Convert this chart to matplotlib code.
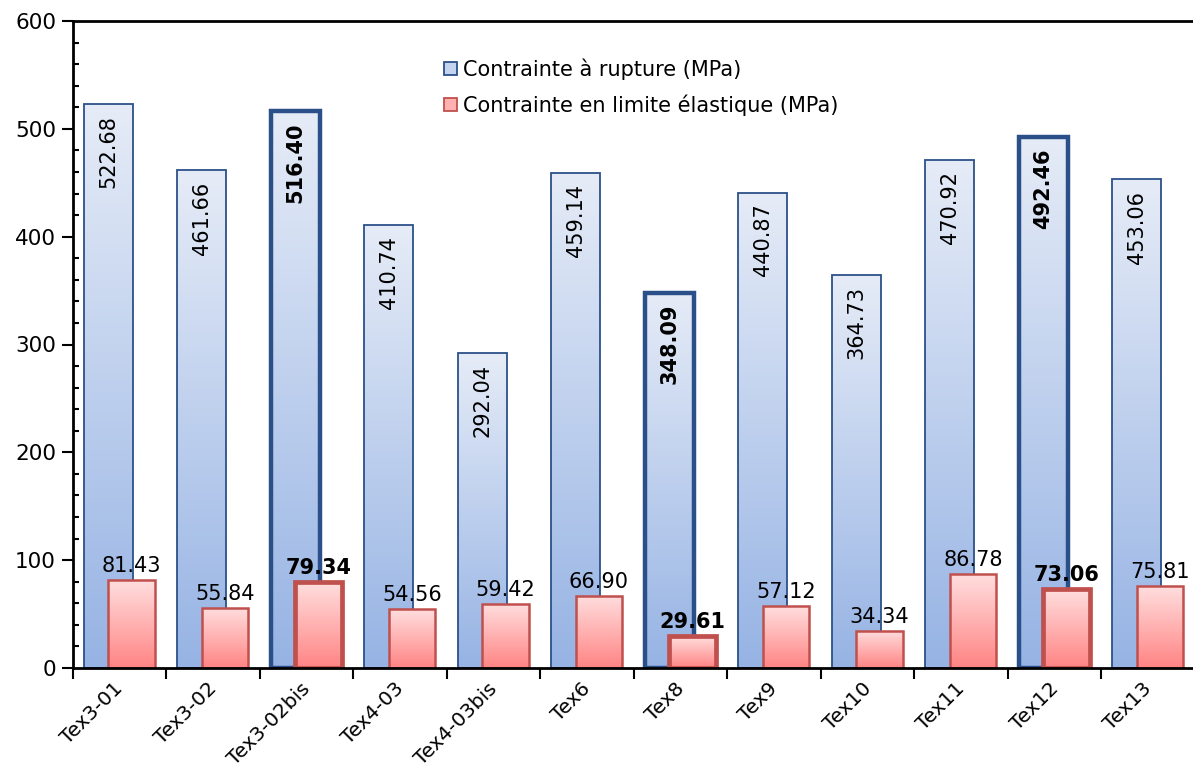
import matplotlib
matplotlib.use("Agg")
import matplotlib.pyplot as plt
import numpy as np
from matplotlib.colors import LinearSegmentedColormap
from matplotlib.patches import Patch
from matplotlib.ticker import MultipleLocator
from matplotlib.transforms import ScaledTranslation

plt.rcParams['font.family'] = ['DejaVu Sans']

categories = ["Tex3-01", "Tex3-02", "Tex3-02bis", "Tex4-03", "Tex4-03bis", "Tex6",
              "Tex8", "Tex9", "Tex10", "Tex11", "Tex12", "Tex13"]
rupture = [522.68, 461.66, 516.40, 410.74, 292.04, 459.14,
           348.09, 440.87, 364.73, 470.92, 492.46, 453.06]
elastique = [81.43, 55.84, 79.34, 54.56, 59.42, 66.90,
             29.61, 57.12, 34.34, 86.78, 73.06, 75.81]
highlighted = ["Tex3-02bis", "Tex8", "Tex12"]
legend_labels = ["Contrainte à rupture (MPa)", "Contrainte en limite élastique (MPa)"]

W, H = 1193, 772
fig = plt.figure(figsize=(W / 100, H / 100), dpi=100)
ax = fig.add_axes([72.7 / W, (772 - 668) / H, (1194.7 - 72.7) / W, (668 - 21) / H])

blue_cmap = LinearSegmentedColormap.from_list("b", ["#96B3E4", "#E6ECF7"])
red_cmap = LinearSegmentedColormap.from_list("r", ["#FF8484", "#FFDEDE"])
blue_edge = "#2B5089"
red_edge = "#C0504D"

x = np.arange(len(categories))
grad = np.linspace(0, 1, 256).reshape(-1, 1)


def gradient_bars(xpos, vals, width, cmap, edge, z, lw_norm, lw_bold):
    bars = ax.bar(xpos, vals, width=width, facecolor='none', edgecolor=edge, zorder=z + 0.1)
    for b, cat in zip(bars, categories):
        bold = cat in highlighted
        b.set_linewidth(lw_bold if bold else lw_norm)
        x0, y0 = b.get_x(), b.get_y()
        w, h = b.get_width(), b.get_height()
        im = ax.imshow(grad, extent=[x0, x0 + w, y0, y0 + h], origin='lower',
                       cmap=cmap, aspect='auto', zorder=z, interpolation='bicubic')
        im.set_clip_path(b)
    return bars


bbars = gradient_bars(x - 0.118, rupture, 0.524, blue_cmap, blue_edge, 1, 1.3, 3.2)
rbars = gradient_bars(x + 0.128, elastique, 0.50, red_cmap, red_edge, 2, 1.8, 3.4)

for b, v, cat in zip(bbars, rupture, categories):
    ax.annotate(f"{v:.2f}", (b.get_x() + b.get_width() / 2, v), xytext=(0, -8),
                textcoords='offset points', rotation=90, ha='center', va='top',
                fontsize=15, fontweight='bold' if cat in highlighted else 'normal',
                zorder=5)
for b, v, cat in zip(rbars, elastique, categories):
    ax.annotate(f"{v:.2f}", (b.get_x() + b.get_width() / 2, v), xytext=(0, 3),
                textcoords='offset points', ha='center', va='bottom',
                fontsize=15, fontweight='bold' if cat in highlighted else 'normal',
                zorder=5)

ax.set_xlim(-0.5, len(categories) - 0.5)
ax.set_ylim(0, 600)

ax.set_xticks(x)
ax.set_xticklabels(categories, rotation=45, ha='right', va='top', rotation_mode='anchor',
                   fontsize=14.5)
ax.tick_params(axis='x', which='major', length=0, pad=8)
shift = ScaledTranslation(-6 / 100, 0, fig.dpi_scale_trans)
for lbl in ax.get_xticklabels():
    lbl.set_transform(lbl.get_transform() + shift)
ax.set_xticks(np.arange(-0.5, len(categories), 1.0), minor=True)
ax.tick_params(axis='x', which='minor', length=8, width=1.5, direction='out')

ax.yaxis.set_major_locator(MultipleLocator(100))
ax.yaxis.set_minor_locator(MultipleLocator(20))
ax.tick_params(axis='y', which='major', length=8, width=1.5, direction='out', labelsize=15.5, pad=4)
ax.tick_params(axis='y', which='minor', length=4, width=1.5, direction='in')

for s in ['left', 'bottom', 'top']:
    ax.spines[s].set_linewidth(2)
    ax.spines[s].set_zorder(4)
ax.spines['right'].set_visible(False)

handles = [Patch(facecolor="#C5D4EE", edgecolor=blue_edge, linewidth=1.3),
           Patch(facecolor="#FFB0B0", edgecolor=red_edge, linewidth=1.3)]
fig.legend(handles, legend_labels, loc='upper left',
           bbox_to_anchor=(444 / W, 1 - 58 / H), frameon=False, fontsize=15,
           handlelength=0.6, handleheight=0.6, handletextpad=0.3,
           labelspacing=0.7, borderpad=0, borderaxespad=0)

fig.savefig("out.png", dpi=100)
